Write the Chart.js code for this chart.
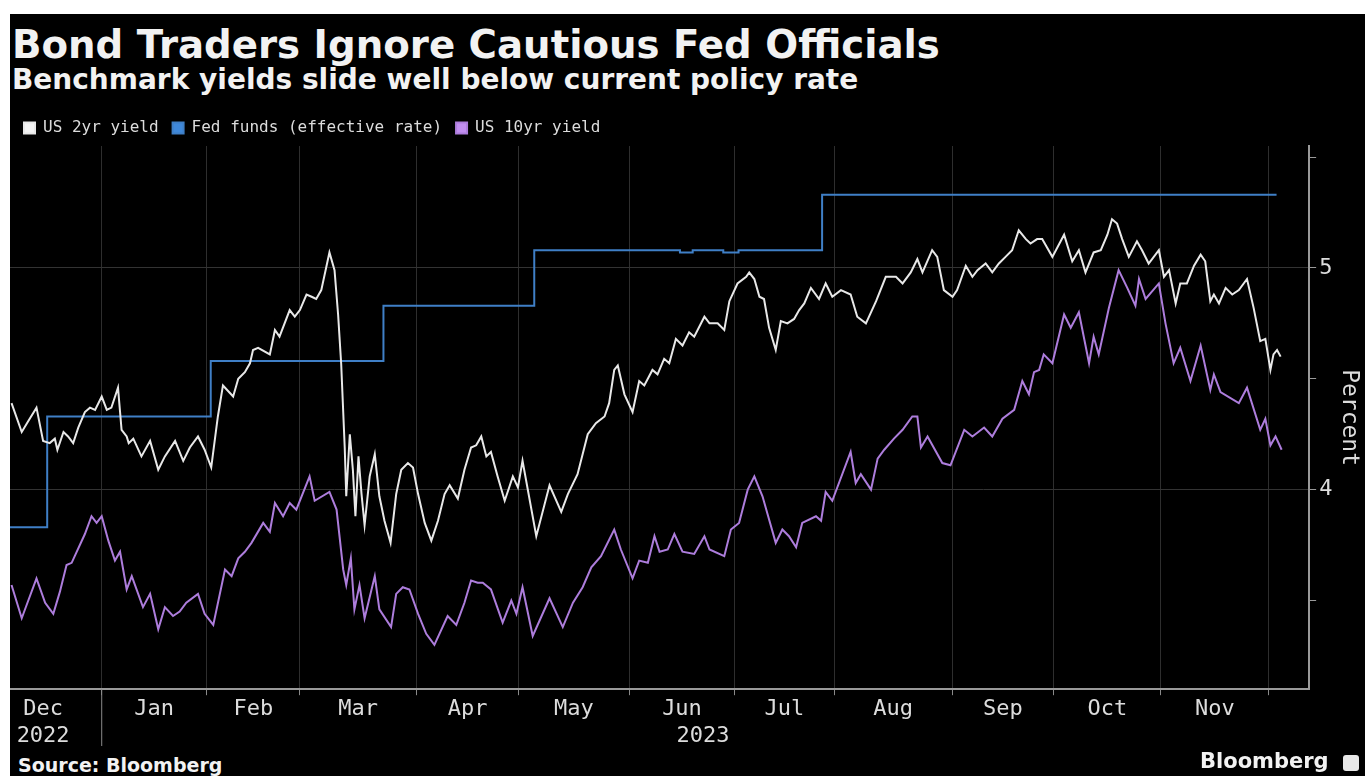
<!DOCTYPE html>
<html lang="en">
<head>
<meta charset="UTF-8">
<title>Bond Traders Ignore Cautious Fed Officials</title>
<script src="https://cdn.jsdelivr.net/npm/chart.js"></script>
<style>
    body { margin: 0; background: #fff; width: 1365px; height: 776px; overflow: hidden; }
    #card { position: absolute; left: 10px; top: 14px; width: 1355px; height: 762px; background: #000; overflow: hidden; }
    .txt { position: absolute; color: #f2f2f2; font-family: "DejaVu Sans", sans-serif; font-weight: bold; white-space: nowrap; }
    #title { left: 2px; top: 11px; font-size: 38.7px; line-height: 39px; }
    #subtitle { left: 2px; top: 52px; font-size: 28px; line-height: 28px; }
    #source { left: 8px; top: 742px; font-size: 19px; line-height: 19px; }
    #brand { left: 1190px; top: 737px; font-size: 21px; line-height: 21px; }
    #logo { position: absolute; left: 1333px; top: 741px; width: 16px; height: 16px; background: #e8e8e8; border-radius: 3px; }
    #chartBox { position: absolute; left: 0; top: 92px; width: 1355px; height: 644px; }
</style>
</head>
<body>
<div id="card">
    <div id="title" class="txt">Bond Traders Ignore Cautious Fed Officials</div>
    <div id="subtitle" class="txt">Benchmark yields slide well below current policy rate</div>
    <div id="chartBox"><canvas id="yields"></canvas></div>
    <div id="source" class="txt">Source: Bloomberg</div>
    <div id="brand" class="txt">Bloomberg</div>
    <div id="logo"></div>
</div>
<script>
// x = trading session number (0 = early Dec 2022)
const monthStarts = [-5, 18, 38.6, 56.9, 79.8, 99.8, 121.6, 142.2, 161.8, 184.9, 204.9, 225.9, 247.1];
const monthNames = ['Dec', 'Jan', 'Feb', 'Mar', 'Apr', 'May', 'Jun', 'Jul', 'Aug', 'Sep', 'Oct', 'Nov'];
const yearNames = ['2022', '2023'];
const yearAt = [6.5, 136];
const yTicks = [3.5, 4, 4.5, 5, 5.5];

const fedX = [0, 7.3, 39.4, 73.3, 102.9, 131.5, 134, 140, 143, 159.4, 248.6];
const fedY = [3.83, 4.33, 4.58, 4.83, 5.08, 5.07, 5.08, 5.07, 5.08, 5.33, 5.33];

const twoX = [0.3, 2.3, 3.6, 5.2, 6.5, 7.8, 8.8, 9.3, 10.5, 11.4, 12.4, 13.4, 14.7, 15.7, 16.7, 18.0, 19.0, 19.9, 21.2, 21.9,
    22.9, 23.3, 24.2, 25.8, 27.5, 29.1, 30.4, 32.4, 34.0, 35.3, 36.9, 38.2, 39.5, 40.8, 41.8, 43.8, 44.8, 46.1, 47.1, 47.7,
    48.7, 51.0, 52.0, 52.9, 54.9, 55.9, 56.9, 58.2, 59.2, 60.1, 61.1, 62.7, 63.7, 64.4, 65.0, 65.7, 66.0, 66.7, 67.3, 67.8,
    68.4, 69.0, 69.6, 70.6, 71.6, 72.5, 73.5, 74.7, 75.8, 76.8, 78.1, 79.1, 80.1, 81.4, 82.7, 84.0, 85.3, 86.3, 87.9, 89.2,
    90.5, 91.5, 92.5, 93.5, 94.4, 95.7, 97.1, 98.7, 99.7, 100.6, 103.3, 105.9, 108.2, 109.5, 111.4, 113.4, 115.0, 116.7, 117.6, 118.6,
    119.3, 120.6, 122.2, 123.5, 124.5, 126.1, 127.1, 128.4, 129.4, 130.7, 132.0, 133.3, 134.3, 136.3, 137.3, 138.9, 140.2, 141.2, 142.8, 144.5,
    145.1, 146.1, 147.1, 148.0, 149.0, 150.3, 151.3, 152.6, 153.9, 154.9, 155.9, 157.2, 158.8, 160.1, 161.4, 163.1, 165.0, 166.3, 168.0, 170.0,
    171.9, 173.9, 175.2, 176.8, 178.1, 179.1, 181.0, 182.0, 183.3, 185.0, 185.9, 187.6, 188.9, 189.9, 191.5, 192.8, 194.1, 195.4, 196.7, 198.0,
    199.4, 200.3, 201.6, 202.6, 204.6, 206.9, 208.5, 209.8, 211.1, 212.7, 214.1, 215.4, 216.3, 217.3, 218.3, 219.6, 221.2, 222.2, 223.5, 225.5,
    226.5, 227.5, 228.8, 229.7, 231.0, 232.4, 233.7, 234.6, 235.6, 236.3, 237.3, 238.6, 239.9, 241.2, 242.8, 244.1, 245.4, 246.4, 247.4, 248.0,
    248.7, 249.4];
const twoY = [4.39, 4.26, 4.31, 4.37, 4.22, 4.21, 4.23, 4.18, 4.26, 4.24, 4.21, 4.28, 4.35, 4.37, 4.36, 4.42, 4.36, 4.37, 4.46, 4.27,
    4.24, 4.21, 4.23, 4.15, 4.22, 4.09, 4.15, 4.22, 4.13, 4.19, 4.24, 4.18, 4.10, 4.33, 4.47, 4.42, 4.50, 4.53, 4.57, 4.63,
    4.64, 4.61, 4.72, 4.69, 4.81, 4.78, 4.81, 4.88, 4.87, 4.86, 4.90, 5.07, 4.99, 4.79, 4.57, 4.19, 3.97, 4.25, 4.09, 3.88,
    4.15, 3.98, 3.84, 4.06, 4.16, 3.97, 3.86, 3.76, 3.98, 4.09, 4.12, 4.10, 3.98, 3.85, 3.77, 3.86, 3.98, 4.02, 3.96, 4.09,
    4.19, 4.20, 4.24, 4.15, 4.17, 4.06, 3.95, 4.06, 4.01, 4.13, 3.79, 4.02, 3.90, 3.98, 4.07, 4.25, 4.30, 4.33, 4.39, 4.54,
    4.56, 4.43, 4.35, 4.49, 4.47, 4.54, 4.52, 4.59, 4.57, 4.68, 4.65, 4.71, 4.69, 4.78, 4.75, 4.75, 4.72, 4.85, 4.93, 4.96,
    4.98, 4.95, 4.87, 4.86, 4.73, 4.63, 4.76, 4.75, 4.77, 4.81, 4.84, 4.91, 4.86, 4.93, 4.87, 4.90, 4.88, 4.78, 4.75, 4.85,
    4.96, 4.96, 4.93, 4.98, 5.04, 4.98, 5.08, 5.05, 4.90, 4.87, 4.90, 5.01, 4.96, 4.99, 5.02, 4.98, 5.02, 5.05, 5.08, 5.17,
    5.13, 5.11, 5.13, 5.13, 5.05, 5.15, 5.03, 5.08, 4.98, 5.07, 5.08, 5.15, 5.22, 5.20, 5.13, 5.05, 5.12, 5.08, 5.02, 5.08,
    4.96, 4.99, 4.84, 4.93, 4.93, 5.01, 5.06, 5.03, 4.85, 4.88, 4.84, 4.91, 4.88, 4.90, 4.95, 4.82, 4.67, 4.68, 4.54, 4.61,
    4.63, 4.60];

const tenX = [0.3, 2.3, 5.2, 6.9, 8.5, 9.8, 11.1, 12.1, 14.7, 16.0, 17.0, 18.0, 19.3, 20.6, 21.6, 22.9, 23.9, 26.1, 27.5, 29.1,
    30.4, 32.0, 33.3, 34.6, 36.9, 38.2, 39.9, 42.2, 43.5, 44.8, 46.1, 47.4, 49.7, 51.0, 52.0, 53.6, 54.9, 56.2, 58.8, 59.8,
    62.7, 64.1, 65.4, 66.0, 66.9, 67.6, 68.6, 69.6, 71.6, 72.5, 74.8, 75.8, 77.1, 78.4, 80.1, 81.7, 83.3, 85.9, 87.6, 89.2,
    90.5, 91.8, 92.8, 94.4, 96.7, 98.4, 99.4, 100.6, 102.6, 105.9, 108.5, 110.5, 112.4, 114.1, 116.0, 118.6, 119.9, 122.2, 123.5, 125.2,
    126.5, 127.5, 129.1, 130.4, 132.0, 134.3, 136.3, 137.3, 140.2, 141.5, 143.1, 144.8, 146.1, 147.7, 150.3, 151.6, 152.9, 154.3, 155.5, 158.2,
    159.2, 160.1, 161.4, 165.0, 166.0, 167.0, 169.0, 170.3, 171.6, 173.5, 175.2, 177.1, 178.1, 178.8, 180.1, 183.0, 184.6, 187.3, 188.9, 191.2,
    192.8, 194.8, 197.1, 198.7, 200.0, 201.0, 202.0, 202.9, 204.6, 206.9, 208.2, 209.8, 211.8, 212.7, 213.7, 215.7, 217.6, 219.3, 220.9, 221.6,
    222.9, 225.5, 226.8, 228.4, 229.7, 231.7, 233.7, 235.6, 236.3, 237.6, 241.2, 242.8, 245.4, 246.4, 247.4, 248.4, 249.6];
const tenY = [3.57, 3.42, 3.60, 3.49, 3.44, 3.54, 3.66, 3.67, 3.80, 3.88, 3.85, 3.88, 3.77, 3.68, 3.72, 3.55, 3.61, 3.47, 3.53, 3.37,
    3.47, 3.43, 3.45, 3.49, 3.53, 3.44, 3.39, 3.64, 3.61, 3.69, 3.72, 3.76, 3.85, 3.81, 3.94, 3.88, 3.94, 3.91, 4.06, 3.95,
    3.99, 3.91, 3.64, 3.57, 3.69, 3.46, 3.57, 3.42, 3.61, 3.46, 3.38, 3.53, 3.56, 3.55, 3.44, 3.35, 3.30, 3.43, 3.39, 3.49,
    3.59, 3.58, 3.58, 3.55, 3.40, 3.50, 3.44, 3.56, 3.34, 3.51, 3.38, 3.49, 3.56, 3.65, 3.70, 3.82, 3.73, 3.60, 3.68, 3.67,
    3.79, 3.72, 3.73, 3.80, 3.72, 3.71, 3.79, 3.73, 3.70, 3.82, 3.85, 4.00, 4.06, 3.97, 3.76, 3.82, 3.79, 3.74, 3.85, 3.88,
    3.86, 3.99, 3.95, 4.17, 4.03, 4.07, 4.00, 4.14, 4.18, 4.23, 4.27, 4.33, 4.33, 4.19, 4.24, 4.12, 4.11, 4.27, 4.24, 4.28,
    4.24, 4.32, 4.36, 4.49, 4.43, 4.53, 4.54, 4.61, 4.57, 4.79, 4.73, 4.80, 4.57, 4.69, 4.61, 4.82, 4.99, 4.91, 4.83, 4.95,
    4.86, 4.93, 4.75, 4.57, 4.64, 4.49, 4.65, 4.45, 4.52, 4.44, 4.39, 4.46, 4.27, 4.32, 4.20, 4.24, 4.18];

const toPoints = (xs, ys) => xs.map((x, i) => ({ x: x, y: ys[i] }));

// tick labels on the time axis: month names mid-month, years underneath
const xLabels = {};
monthNames.forEach((m, i) => {
    const mid = (monthStarts[i] + monthStarts[i + 1]) / 2;
    xLabels[mid] = [m, ''];
});
yearAt.forEach((v, i) => {
    xLabels[v] = [xLabels[v] ? xLabels[v][0] : '', yearNames[i]];
});
const isBoundary = v => monthStarts.indexOf(v) !== -1;

const FONT = '"DejaVu Sans Mono", monospace';

const yearDivider = {
    id: 'yearDivider',
    afterDraw(chart) {
        const xs = chart.scales.x;
        const px = xs.getPixelForValue(monthStarts[1]);
        const c = chart.ctx;
        c.save();
        c.strokeStyle = '#8a8a8a';
        c.lineWidth = 1;
        c.beginPath();
        c.moveTo(px, xs.top);
        c.lineTo(px, xs.bottom - 4);
        c.stroke();
        c.restore();
    }
};

new Chart(document.getElementById('yields'), {
    type: 'line',
    data: {
        datasets: [{
            label: 'US 2yr yield',
            data: toPoints(twoX, twoY),
            borderColor: '#e8e8e8',
            backgroundColor: '#f4f4f4',
            borderWidth: 2,
            pointRadius: 0
        }, {
            label: 'Fed funds (effective rate)',
            data: toPoints(fedX, fedY),
            borderColor: '#3f7fc6',
            backgroundColor: '#3f88da',
            borderWidth: 2,
            pointRadius: 0,
            stepped: true
        }, {
            label: 'US 10yr yield',
            data: toPoints(tenX, tenY),
            borderColor: '#ad7ddc',
            backgroundColor: '#c28ef0',
            borderWidth: 2,
            pointRadius: 0
        }]
    },
    options: {
        responsive: true,
        maintainAspectRatio: false,
        animation: false,
        layout: { padding: { left: 0, right: 2, top: 0, bottom: 0 } },
        plugins: {
            tooltip: { enabled: false },
            legend: {
                position: 'top',
                align: 'start',
                labels: {
                    color: '#dcdcdc',
                    boxWidth: 11,
                    boxHeight: 11,
                    padding: 14,
                    font: { family: FONT, size: 16 }
                }
            }
        },
        scales: {
            x: {
                type: 'linear',
                min: 0,
                max: 255,
                afterBuildTicks: scale => {
                    const t = monthStarts.filter(v => v >= scale.min && v <= scale.max);
                    Object.keys(xLabels).forEach(k => t.push(Number(k)));
                    scale.ticks = t.sort((a, b) => a - b).map(v => ({ value: v }));
                },
                ticks: {
                    autoSkip: false,
                    maxRotation: 0,
                    color: '#dcdcdc',
                    padding: 1,
                    font: { family: FONT, size: 22 },
                    callback: v => xLabels[v] || ''
                },
                grid: {
                    color: c => c.tick && isBoundary(c.tick.value) ? '#2e2e2e' : 'transparent',
                    tickColor: c => c.tick && isBoundary(c.tick.value) ? '#8a8a8a' : 'transparent',
                    tickLength: 6,
                    lineWidth: 1
                },
                border: { color: '#9a9a9a', width: 2 }
            },
            y: {
                position: 'right',
                min: 3.1,
                max: 5.55,
                afterBuildTicks: scale => {
                    scale.ticks = yTicks.map(v => ({ value: v }));
                },
                ticks: {
                    color: '#dcdcdc',
                    padding: 3,
                    font: { family: FONT, size: 22 },
                    callback: v => Number.isInteger(v) ? String(v) : ''
                },
                grid: {
                    color: c => c.tick && Number.isInteger(c.tick.value) ? '#333333' : 'transparent',
                    tickColor: '#9a9a9a',
                    tickLength: 7
                },
                border: { color: '#9a9a9a', width: 2 },
                title: {
                    display: true,
                    text: 'Percent',
                    color: '#dcdcdc',
                    font: { family: FONT, size: 23 },
                    padding: { top: 0, bottom: 0 }
                }
            }
        }
    },
    plugins: [yearDivider]
});
</script>
</body>
</html>
